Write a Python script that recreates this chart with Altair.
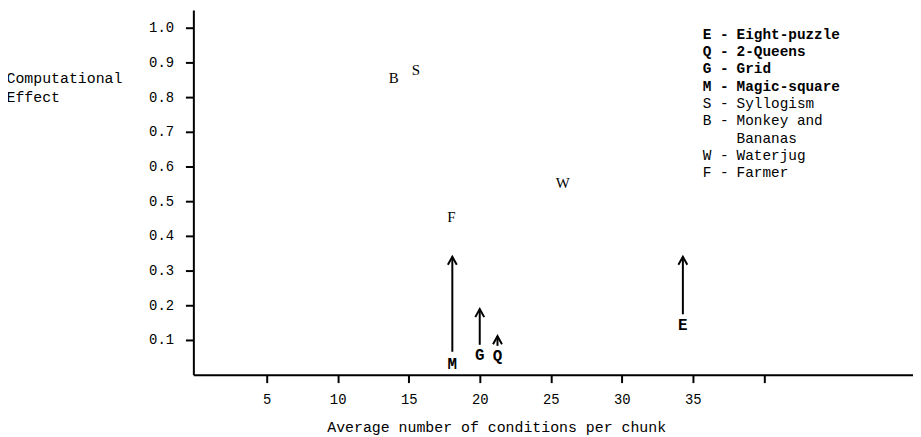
import altair as alt
import pandas as pd

# ---- data ----
plain_codes = ["B", "S", "F", "W"]
plain_x = [13.95, 15.5, 18.0, 25.85]
plain_y = [0.854, 0.877, 0.454, 0.551]

bold_codes = ["M", "G", "Q", "E"]
bold_x = [18.07, 20.0, 21.25, 34.3]
bold_label_y = [0.031, 0.057, 0.054, 0.143]
arrow_from = [0.066, 0.086, 0.083, 0.174]
arrow_to = [0.34, 0.189, 0.111, 0.34]

legend_codes = ["E -", "Q -", "G -", "M -", "S -", "B -", "", "W -", "F -"]
legend_names = ["Eight-puzzle", "2-Queens", "Grid", "Magic-square", "Syllogism",
                "Monkey and", "Bananas", "Waterjug", "Farmer"]
legend_bold = [True, True, True, True, False, False, False, False, False]

x_ticks = [5, 10, 15, 20, 25, 30, 35, 40]
y_ticks = [0.1, 0.2, 0.3, 0.4, 0.5, 0.6, 0.7, 0.8, 0.9, 1.0]

x_title = "Average number of conditions per chunk"
y_title = ["Computational", "Effect"]

MONO = "Liberation Mono"
SERIF = "Liberation Serif"

plain_df = pd.DataFrame({"code": plain_codes, "x": plain_x, "y": plain_y})
bold_df = pd.DataFrame({"code": bold_codes, "x": bold_x, "ly": bold_label_y,
                        "y0": arrow_from, "y1": arrow_to})
legend_df = pd.DataFrame({"row": list(range(len(legend_names))), "code": legend_codes,
                          "name": legend_names, "bold": legend_bold})

x_scale = alt.Scale(domain=[-0.16, 50.5], nice=False, zero=False)
y_scale = alt.Scale(domain=[0, 1.0514], nice=False, zero=False)

x_axis = alt.Axis(values=x_ticks, format="d",
                  labelExpr="datum.value == 40 ? '' : datum.label",
                  title=x_title, titleX=305.5, titleY=52, titleAlign="center",
                  titleBaseline="middle", grid=False)
y_axis = alt.Axis(values=y_ticks, format=".1f", title=y_title, titleAngle=0,
                  titleAlign="left", titleBaseline="alphabetic", titleX=-189,
                  titleY=73, titleLineHeight=19, grid=False)

rules = alt.Chart(bold_df).mark_rule(color="black", strokeWidth=2).encode(
    x=alt.X("x:Q", scale=x_scale, axis=x_axis),
    y=alt.Y("y0:Q", scale=y_scale, axis=y_axis),
    y2="y1:Q",
)
heads = alt.Chart(bold_df).mark_point(
    shape="M-1,1.8L0,0L1,1.8", size=81, filled=False, color="black",
    strokeWidth=2, opacity=1
).encode(
    x=alt.X("x:Q", scale=x_scale),
    y=alt.Y("y1:Q", scale=y_scale),
)
bold_labels = alt.Chart(bold_df).mark_text(
    font=MONO, fontWeight="bold", fontSize=16, color="black",
    align="center", baseline="middle"
).encode(
    x=alt.X("x:Q", scale=x_scale),
    y=alt.Y("ly:Q", scale=y_scale),
    text="code:N",
)
plain_labels = alt.Chart(plain_df).mark_text(
    font=SERIF, fontSize=15, color="black", align="center", baseline="middle"
).encode(
    x=alt.X("x:Q", scale=x_scale),
    y=alt.Y("y:Q", scale=y_scale),
    text="code:N",
)

main = alt.layer(rules, heads, bold_labels, plain_labels)

leg_y = alt.Y("row:Q", scale=alt.Scale(domain=[0, 8], range=[25, 165]), axis=None)
leg_base = alt.Chart(legend_df)
leg_layers = []
for is_bold in (True, False):
    sub = leg_base.transform_filter(
        "datum.bold" if is_bold else "!datum.bold")
    kw = dict(font=MONO, fontSize=14.5, color="black", align="left",
              baseline="middle", fontWeight="bold" if is_bold else "normal")
    leg_layers.append(sub.mark_text(**kw).encode(
        x=alt.value(514), y=leg_y, text="code:N"))
    leg_layers.append(sub.mark_text(**kw).encode(
        x=alt.value(548), y=leg_y, text="name:N"))
legend = alt.layer(*leg_layers)

chart = alt.layer(main, legend).resolve_scale(y="independent").properties(
    width=726, height=368,
    padding={"left": 187, "top": 0, "right": 0, "bottom": 61},
    autosize=alt.AutoSizeParams(type="none"),
).configure_view(stroke=None).configure_axis(
    domainColor="black", domainWidth=2, tickColor="black", tickWidth=2,
    tickSize=8, labelFont=MONO, labelFontSize=14, labelColor="black",
    labelPadding=10, titleFont=MONO, titleFontSize=15, titleColor="black",
    titleFontWeight="normal",
).configure_axisY(labelPadding=12)

chart.save("out.html", embed_options={"renderer": "svg", "actions": False})
